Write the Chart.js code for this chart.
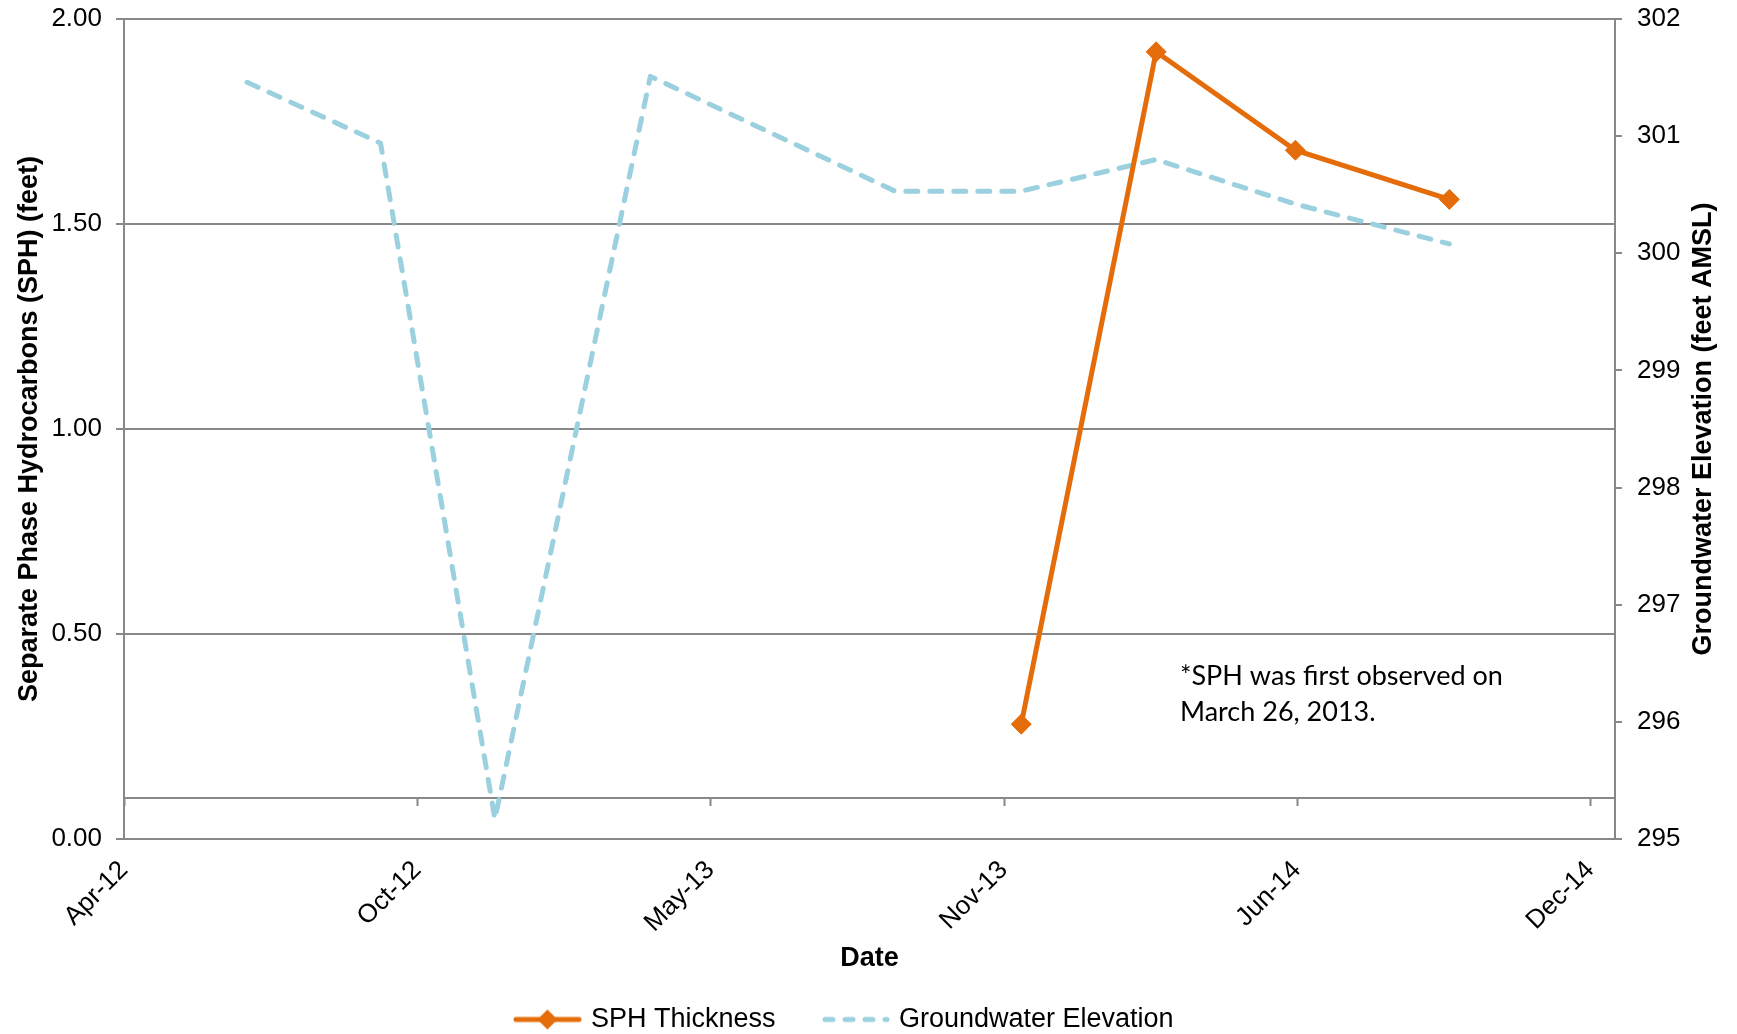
<!DOCTYPE html>
<html>
<head>
<meta charset="utf-8">
<title>SPH Thickness and Groundwater Elevation</title>
<script src="https://cdn.jsdelivr.net/npm/chart.js@4.4.1/dist/chart.umd.min.js"></script>
<style>
  html, body { margin: 0; padding: 0; background: #ffffff; }
</style>
</head>
<body>
<canvas id="chart" width="1737" height="1034"></canvas>
<script>
// date axis: starts 1-Apr-2012, major unit 200 days
const axisStart = '2012-04-01';
const axisEndDays = 1017;
const tickStepDays = 200;
const tickLabels = ['Apr-12', 'Oct-12', 'May-13', 'Nov-13', 'Jun-14', 'Dec-14'];

const gwDates = ['2012-06-24', '2012-09-23', '2012-12-10', '2013-03-26', '2013-09-09',
                 '2013-12-04', '2014-03-06', '2014-06-09', '2014-09-22'];
const gwElevation = [301.46, 300.94, 295.17, 301.51, 300.53, 300.53, 300.80, 300.42, 300.08];

const sphDates = ['2013-12-04', '2014-03-06', '2014-06-09', '2014-09-22'];
const sphThickness = [0.28, 1.92, 1.68, 1.56];

const xAxisCrossing = 0.10;   // horizontal axis crosses the left axis here
const noteLines = ['*SPH was first observed on', 'March 26, 2013.'];

const sphColor = '#e46c0a';
const gwColor = '#9bd0df';
const gridColor = '#888888';
const FONT = "'Liberation Sans', Arial, sans-serif";

function dayOffset(d) {
    return (Date.parse(d) - Date.parse(axisStart)) / 86400000;
}

const sphPoints = sphDates.map((d, i) => ({ x: dayOffset(d), y: sphThickness[i] }));
const gwPoints = gwDates.map((d, i) => ({ x: dayOffset(d), y: gwElevation[i] }));

// little line samples for the legend
function legendSample(dashed) {
    const c = document.createElement('canvas');
    c.width = 69;
    c.height = 24;
    const g = c.getContext('2d');
    g.lineWidth = 5;
    g.lineCap = 'round';
    g.beginPath();
    if (dashed) {
        g.strokeStyle = gwColor;
        g.setLineDash([8, 12]);
        g.moveTo(4, 12);
        g.lineTo(66, 12);
        g.stroke();
    } else {
        g.strokeStyle = sphColor;
        g.moveTo(3, 12);
        g.lineTo(66, 12);
        g.stroke();
        g.fillStyle = sphColor;
        g.beginPath();
        g.moveTo(34.5 - 10, 12);
        g.lineTo(34.5, 2);
        g.lineTo(34.5 + 10, 12);
        g.lineTo(34.5, 22);
        g.closePath();
        g.fill();
    }
    return c;
}

function dropLabelPadding(scale) {
    scale.paddingTop = 0;
    scale.paddingBottom = 0;
}

const crossingAxis = {
    id: 'crossingAxis',
    beforeDatasetsDraw(chart) {
        const { ctx, chartArea, scales } = chart;
        const y = Math.round(scales.y.getPixelForValue(xAxisCrossing));
        ctx.save();
        ctx.strokeStyle = gridColor;
        ctx.lineWidth = 2;
        ctx.beginPath();
        ctx.moveTo(chartArea.left, y);
        ctx.lineTo(chartArea.right, y);
        scales.x.ticks.forEach(t => {
            const x = Math.round(scales.x.getPixelForValue(t.value)) + 0.5;
            ctx.moveTo(x, y);
            ctx.lineTo(x, y + 8);
        });
        ctx.stroke();
        ctx.restore();
    },
    afterDraw(chart) {
        const { ctx, chartArea } = chart;
        ctx.save();
        // right axis title, reads bottom to top
        ctx.translate(1704, (chartArea.top + chartArea.bottom) / 2);
        ctx.rotate(-Math.PI / 2);
        ctx.font = "bold 27px " + FONT;
        ctx.fillStyle = '#000';
        ctx.textAlign = 'center';
        ctx.textBaseline = 'middle';
        ctx.fillText('Groundwater Elevation (feet AMSL)', 0, 0);
        ctx.restore();

        ctx.save();
        ctx.font = "27px Lato, 'Open Sans', sans-serif";
        ctx.fillStyle = '#000';
        ctx.textAlign = 'left';
        ctx.textBaseline = 'middle';
        noteLines.forEach((line, i) => ctx.fillText(line, 1180, 676 + i * 36));
        ctx.restore();
    }
};

const ctx = document.getElementById('chart').getContext('2d');
const chart = new Chart(ctx, {
    type: 'line',
    data: {
        datasets: [{
            label: 'SPH Thickness',
            data: sphPoints,
            yAxisID: 'y',
            borderColor: sphColor,
            backgroundColor: sphColor,
            borderWidth: 5,
            pointStyle: 'rectRot',
            pointRadius: 10,
            pointBorderWidth: 1,
            tension: 0
        }, {
            label: 'Groundwater Elevation',
            data: gwPoints,
            yAxisID: 'y2',
            borderColor: gwColor,
            backgroundColor: gwColor,
            borderWidth: 5,
            borderDash: [12, 12],
            borderCapStyle: 'round',
            borderJoinStyle: 'round',
            pointRadius: 0,
            tension: 0
        }]
    },
    options: {
        responsive: false,
        animation: false,
        devicePixelRatio: 1,
        layout: {
            padding: { top: 19, right: 46, bottom: -9, left: 0 }
        },
        plugins: {
            legend: {
                position: 'bottom',
                labels: {
                    usePointStyle: true,
                    pointStyleWidth: 60,
                    padding: 50,
                    color: '#000',
                    font: { size: 27, family: FONT },
                    generateLabels: function (chart) {
                        return chart.data.datasets.map((ds, i) => ({
                            text: ds.label,
                            pointStyle: legendSample(i === 1),
                            fillStyle: ds.borderColor,
                            strokeStyle: ds.borderColor,
                            lineWidth: 0,
                            fontColor: '#000',
                            hidden: false,
                            datasetIndex: i
                        }));
                    }
                }
            },
            tooltip: { enabled: false }
        },
        scales: {
            x: {
                type: 'linear',
                bounds: 'data',
                min: 0,
                max: axisEndDays,
                grid: { display: false, drawTicks: false },
                border: { display: false },
                // one tick every 200 days, like the Excel date axis
                afterBuildTicks: function (scale) {
                    scale.ticks = tickLabels.map((_, i) => ({ value: i * tickStepDays }));
                },
                ticks: {
                    autoSkip: false,
                    minRotation: 45,
                    maxRotation: 45,
                    padding: 16,
                    color: '#000',
                    font: { size: 26, family: FONT },
                    callback: function (value) {
                        return tickLabels[Math.round(value / tickStepDays)];
                    }
                },
                title: {
                    display: true,
                    text: 'Date',
                    color: '#000',
                    padding: { top: 0, bottom: -3 },
                    font: { size: 27, weight: 'bold', family: FONT, lineHeight: 0 }
                },
                afterFit: function (scale) { scale.height = 117; }
            },
            y: {
                position: 'left',
                min: 0,
                max: 2,
                grid: { color: gridColor, lineWidth: 2, drawTicks: true, tickLength: 8 },
                border: { display: true, color: gridColor, width: 2 },
                ticks: {
                    stepSize: 0.5,
                    padding: 14,
                    color: '#000',
                    font: { size: 26, family: FONT },
                    callback: function (value) { return value.toFixed(2); }
                },
                title: {
                    display: true,
                    text: 'Separate Phase Hydrocarbons (SPH) (feet)',
                    color: '#000',
                    padding: { top: 13, bottom: 0 },
                    font: { size: 27, weight: 'bold', family: FONT }
                },
                afterFit: function (scale) {
                    scale.width = 124;
                    dropLabelPadding(scale);
                }
            },
            y2: {
                position: 'right',
                min: 295,
                max: 302,
                grid: { drawOnChartArea: false, color: gridColor, lineWidth: 2, tickLength: 7 },
                border: { display: true, color: gridColor, width: 2 },
                ticks: {
                    stepSize: 1,
                    padding: 15,
                    color: '#000',
                    font: { size: 26, family: FONT }
                },
                afterFit: function (scale) {
                    scale.width = 76;
                    dropLabelPadding(scale);
                }
            }
        }
    },
    plugins: [crossingAxis]
});
</script>
</body>
</html>
